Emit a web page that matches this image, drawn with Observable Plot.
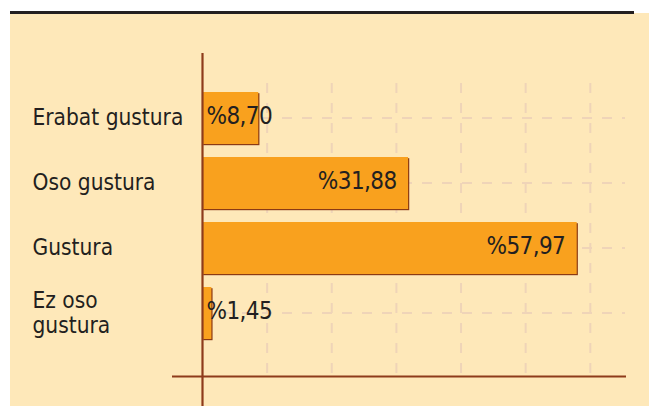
<!DOCTYPE html>
<html>
<head>
<meta charset="utf-8">
<script src="https://cdn.jsdelivr.net/npm/d3@7"></script>
<script src="https://cdn.jsdelivr.net/npm/@observablehq/plot@0.6"></script>
<style>
  body { margin: 0; background: #fff; }
  #wrap { position: relative; width: 649px; height: 406px; overflow: hidden; }
  #bg { position: absolute; left: 10px; top: 13px; right: 0; bottom: 0; background: #FEE8B9; }
  #topline { position: absolute; left: 10px; top: 11px; width: 624px; height: 3px; background: #231F20; }
  #chart { position: absolute; left: 0; top: 0; }
  #chart svg text { font-stretch: condensed; }
  #chart svg g.vals text { letter-spacing: -0.6px; }
</style>
</head>
<body>
<div id="wrap">
  <div id="bg"></div>
  <div id="topline"></div>
  <div id="chart"></div>
</div>
<script>
// ---- data ----
const categories = ["Erabat gustura", "Oso gustura", "Gustura", "Ez oso\ngustura"];
const values = [8.70, 31.88, 57.97, 1.45];
const valueLabels = ["%8,70", "%31,88", "%57,97", "%1,45"];
const gridTicks = [10, 20, 30, 40, 50, 60];

const data = categories.map((c, i) => ({cat: c, value: values[i], label: valueLabels[i]}));

// ---- style ----
const barFill = "#F9A11E";
const barShadow = "#8B3A14";
const axisColor = "#8E3B1B";
const gridColor = "#EFD4B8";
const textColor = "#231F20";

// horizontal dashed gridlines at band centers, drawn through the scales
function hLines(index, scales, values, dims) {
  const g = d3.create("svg:g");
  const x = scales.x, y = scales.y;
  const bw = y.bandwidth ? y.bandwidth() : 52;
  const x0 = x(0), x1 = dims.width - dims.marginRight;
  for (const c of categories) {
    const yc = y(c) + bw / 2;
    g.append("line")
      .attr("x1", x0).attr("x2", x1 - 1)
      .attr("y1", yc).attr("y2", yc)
      .attr("stroke", gridColor).attr("stroke-width", 2)
      .attr("stroke-dasharray", "10,10");
  }
  return g.node();
}
// horizontal axis line below the bars
function baseline(index, scales, values, dims) {
  const r = scales.y.range();
  const yb = Math.max(...r) + 31;
  const g = d3.create("svg:g");
  g.append("line")
    .attr("x1", scales.x(0) - 30).attr("x2", dims.width - dims.marginRight)
    .attr("y1", yb).attr("y2", yb)
    .attr("stroke", axisColor).attr("stroke-width", 2.2);
  return g.node();
}

const chart = Plot.plot({
  width: 649,
  height: 406,
  marginLeft: 202,
  marginRight: 23,
  marginTop: 53,
  marginBottom: 0,
  style: {background: "transparent", fontFamily: "'DejaVu Sans Condensed', 'DejaVu Sans', sans-serif", overflow: "visible"},
  x: {domain: [0, 65.6], axis: null},
  y: {domain: categories, range: [85.5, 345.5], paddingInner: 0.2, paddingOuter: 0.1, axis: null},
  marks: [
    Plot.ruleX(gridTicks, {x: d => d, stroke: gridColor, strokeWidth: 2, strokeDasharray: "10,10", insetTop: 30, insetBottom: 30}),
    hLines,
    Plot.barX(data, {x: "value", y: "cat", fill: barShadow, dx: 1.2, dy: 1.2}),
    Plot.barX(data, {x: "value", y: "cat", fill: barFill}),
    Plot.ruleX([0], {stroke: axisColor, strokeWidth: 2.2}),
    baseline,
    Plot.text(data.filter(d => d.value > 20), {x: "value", y: "cat", text: "label", textAnchor: "end", dx: -12, dy: -2, fontSize: 24, fill: textColor, className: "vals"}),
    Plot.text(data.filter(d => d.value <= 20), {x: 0, y: "cat", text: "label", textAnchor: "start", dx: 4, dy: -2, fontSize: 24, fill: textColor, className: "vals"}),
    Plot.text(data, {y: "cat", text: "cat", frameAnchor: "left", textAnchor: "start", dx: -170, dy: -1, fontSize: 22.5, lineHeight: 1.1, fill: textColor})
  ]
});
document.getElementById("chart").appendChild(chart);
</script>
</body>
</html>
